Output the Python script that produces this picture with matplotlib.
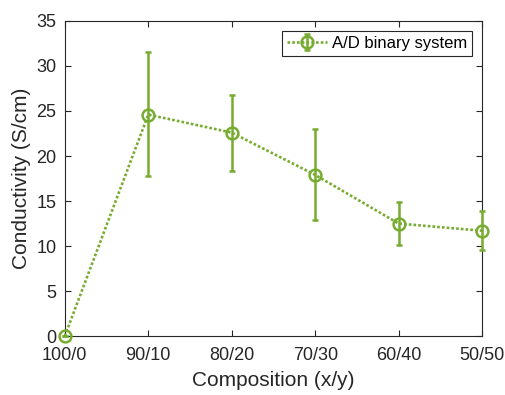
import numpy as np
import matplotlib
matplotlib.use('Agg')
import matplotlib.pyplot as plt

## Data
compositions = ['100/0', '90/10', '80/20', '70/30', '60/40', '50/50']
conductivity = [0.0, 24.6, 22.6, 17.9, 12.5, 11.7]
err_low = [0.0, 6.8, 4.3, 5.0, 2.4, 2.1]
err_high = [0.0, 6.9, 4.2, 5.1, 2.4, 2.2]

green = '#77AC30'
dark = '#262626'

plt.rcParams['font.family'] = ['Liberation Sans', 'DejaVu Sans']

fig = plt.figure(figsize=(5.06, 3.95), dpi=100)
ax = fig.add_axes([0.128, 0.149, 0.825, 0.798])

x = np.arange(1, len(compositions) + 1)
ax.errorbar(x, conductivity, yerr=[err_low, err_high], color=green,
            linestyle=(0, (1, 0.8)), linewidth=1.9, marker='o', markersize=8.5,
            markerfacecolor='none', markeredgewidth=1.8,
            elinewidth=1.8, capsize=2.5, capthick=1.8,
            label='A/D binary system', clip_on=False, zorder=3)

ax.set_xlim(1, 6)
ax.set_ylim(0, 35)
ax.set_xticks(x)
ax.set_xticklabels(compositions)
ax.set_yticks(np.arange(0, 36, 5))
ax.tick_params(direction='in', top=True, right=True, length=4, width=0.8,
               colors=dark, labelsize=13)
ax.tick_params(axis='y', pad=6)
ax.tick_params(axis='x', pad=8)
for s in ax.spines.values():
    s.set_color(dark)
    s.set_linewidth(0.8)

ax.set_xlabel('Composition (x/y)', fontsize=15, color=dark, labelpad=5)
ax.set_ylabel('Conductivity (S/cm)', fontsize=15, color=dark, labelpad=4)

leg = ax.legend(loc='upper right', fontsize=12, fancybox=False,
                edgecolor=dark, framealpha=1, handlelength=2.4,
                handletextpad=0.3, borderpad=0.3, borderaxespad=0.6)
leg.get_frame().set_linewidth(0.8)

fig.savefig('out.png', dpi=100)
